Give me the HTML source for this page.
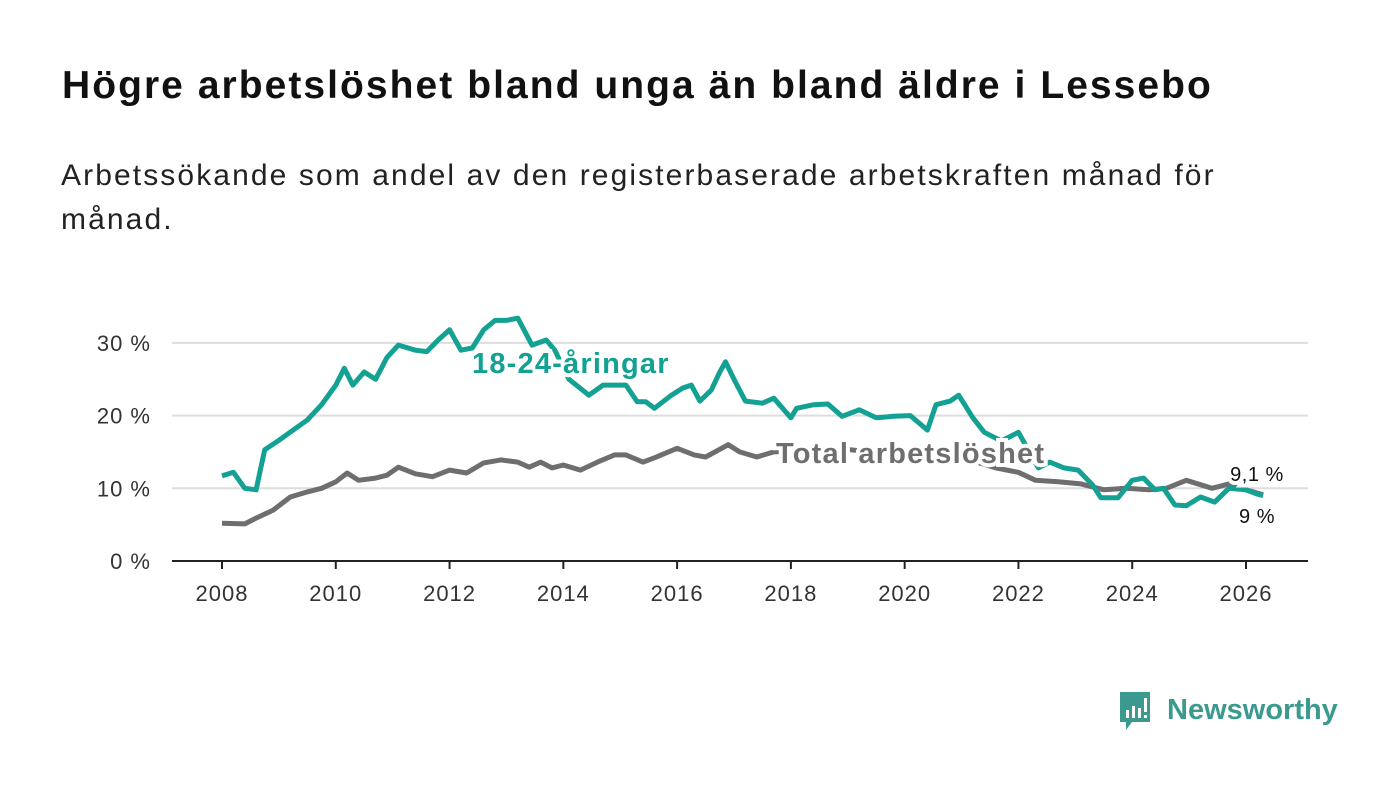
<!DOCTYPE html>
<html><head><meta charset="utf-8"><style>
body{margin:0;background:#fff;width:1400px;height:794px;overflow:hidden;font-family:"Liberation Sans",sans-serif}
h1{position:absolute;left:62px;top:64px;margin:0;font-size:39px;letter-spacing:2.05px;font-weight:bold;color:#111}
p{position:absolute;left:61px;top:154px;margin:0;font-size:30px;letter-spacing:2.1px;line-height:44px;color:#222;width:1200px}
svg{position:absolute;left:0;top:0}
</style></head><body>
<h1>Högre arbetslöshet bland unga än bland äldre i Lessebo</h1>
<p>Arbetssökande som andel av den registerbaserade arbetskraften månad för månad.</p>
<svg width="1400" height="794" id="chart"></svg>
<script>
const youthX=[2008.0,2008.2,2008.4,2008.6,2008.75,2009.0,2009.25,2009.5,2009.75,2010.0,2010.15,2010.3,2010.5,2010.7,2010.9,2011.1,2011.4,2011.6,2011.8,2012.0,2012.2,2012.4,2012.6,2012.8,2013.0,2013.2,2013.45,2013.7,2013.85,2014.1,2014.45,2014.7,2015.1,2015.3,2015.45,2015.6,2015.9,2016.1,2016.25,2016.4,2016.6,2016.75,2016.85,2017.0,2017.2,2017.5,2017.7,2018.0,2018.1,2018.4,2018.65,2018.9,2019.2,2019.5,2019.8,2020.1,2020.4,2020.55,2020.8,2020.95,2021.2,2021.4,2021.7,2022.0,2022.35,2022.55,2022.8,2023.05,2023.3,2023.45,2023.75,2024.0,2024.2,2024.4,2024.55,2024.75,2024.95,2025.2,2025.45,2025.7,2026.0,2026.2,2026.3];
const youthV=[11.7,12.2,10,9.8,15.3,16.6,18,19.4,21.5,24.2,26.5,24.2,26,25,28,29.7,29,28.8,30.4,31.8,29,29.3,31.8,33.1,33.1,33.4,29.7,30.4,29,25,22.8,24.2,24.2,21.9,21.9,21,22.8,23.8,24.2,22,23.5,26,27.4,25,22,21.7,22.4,19.7,21,21.5,21.6,19.9,20.8,19.7,19.9,20,18,21.5,22,22.8,19.7,17.7,16.5,17.7,12.8,13.6,12.8,12.5,10.5,8.7,8.7,11.1,11.4,9.8,10,7.7,7.6,8.8,8.1,10,9.8,9.2,9.0];
const totalX=[2008.0,2008.4,2008.6,2008.9,2009.2,2009.5,2009.75,2010.0,2010.2,2010.4,2010.7,2010.9,2011.1,2011.4,2011.7,2012.0,2012.3,2012.6,2012.9,2013.2,2013.4,2013.6,2013.8,2014.0,2014.3,2014.6,2014.9,2015.1,2015.4,2015.6,2016.0,2016.3,2016.5,2016.9,2017.1,2017.4,2017.7,2018.2,2018.8,2019.4,2020.0,2020.6,2021.1,2021.6,2022.0,2022.3,2022.7,2023.1,2023.5,2023.9,2024.3,2024.6,2024.95,2025.2,2025.4,2025.7,2026.0,2026.3];
const totalV=[5.2,5.1,5.9,7,8.8,9.5,10,10.9,12.1,11.1,11.4,11.8,12.9,12,11.6,12.5,12.1,13.5,13.9,13.6,12.9,13.6,12.8,13.2,12.5,13.6,14.6,14.6,13.6,14.2,15.5,14.6,14.3,16,15,14.3,15,15.2,15.5,15,15.2,14.8,14,12.8,12.2,11.1,10.9,10.6,9.8,10,9.8,10,11.1,10.5,10,10.6,9.8,9.1];
const yTicks=[0,10,20,30];
const xTicks=[2008,2010,2012,2014,2016,2018,2020,2022,2024,2026];
const NS="http://www.w3.org/2000/svg";
const svg=document.getElementById('chart');
const xs=t=>222+(t-2008)*1024/18;
const ys=v=>561-v*7.27;
function mk(tag,a,parent){const e=document.createElementNS(NS,tag);for(const k in a)e.setAttribute(k,a[k]);(parent||svg).appendChild(e);return e;}
yTicks.forEach(v=>{
 if(v>0){const g=mk('line',{x1:172,x2:1308,y1:ys(v),y2:ys(v),stroke:'#ddd','stroke-width':2});
 
 }
 const t=mk('text',{x:151,y:ys(v)+8,'text-anchor':'end','font-size':22,'letter-spacing':1,fill:'#333'});t.textContent=v+' %';
 
 
});
const ax=mk('line',{x1:172,x2:1308,y1:561,y2:561,stroke:'#222','stroke-width':2});


xTicks.forEach(y=>{
 mk('line',{x1:xs(y),x2:xs(y),y1:561,y2:569,stroke:'#222','stroke-width':2});
 const t=mk('text',{x:xs(y),y:601,'text-anchor':'middle','font-size':22,'letter-spacing':1,fill:'#333'});t.textContent=y;
 
 
});
function path(X,V,c,name){const d=X.map((x,i)=>(i?'L':'M')+xs(x).toFixed(1)+','+ys(V[i]).toFixed(1)).join('');
 const p=mk('path',{d:d,fill:'none',stroke:c,'stroke-width':5,'stroke-linejoin':'round'});
 
 }
path(totalX,totalV,'#6e6e70','total-line');
path(youthX,youthV,'#12a192','youth-line');
function lab(x,y,txt,c,size,w,name,anchor,ls){const t=mk('text',{x:x,y:y,'font-size':size,'font-weight':w,fill:c,stroke:'#fff','stroke-width':8,'paint-order':'stroke','text-anchor':anchor||'start','letter-spacing':ls||0});t.textContent=txt;
 
 }
lab(472,373,'18-24-åringar','#12a192',29,'bold','youth-label','start',1.2);
lab(776,463,'Total arbetslöshet','#6e6e70',29,'bold','total-label','start',1.2);
lab(1257,481,'9,1 %','#111',20,'normal','total-end-label','middle',0.5);
lab(1257,523,'9 %','#111',20,'normal','youth-end-label','middle',0.5);
</script>
<svg width="230" height="50" style="left:1118px;top:688px">
<path d="M2 4h30v30h-18l-6 8v-8h-6z" fill="#3a9a8e"/>
<rect x="8" y="22" width="3" height="8" fill="#fff"/><rect x="14" y="18" width="3" height="12" fill="#fff"/><rect x="20" y="20" width="3" height="10" fill="#fff"/><rect x="26" y="10" width="3" height="14" fill="#fff"/><rect x="26" y="27" width="3" height="3" fill="#fff"/>
<text x="49" y="31" font-size="29" font-weight="bold" fill="#3a9a8e" font-family="Liberation Sans,sans-serif">Newsworthy</text>
</svg>
</body></html>
